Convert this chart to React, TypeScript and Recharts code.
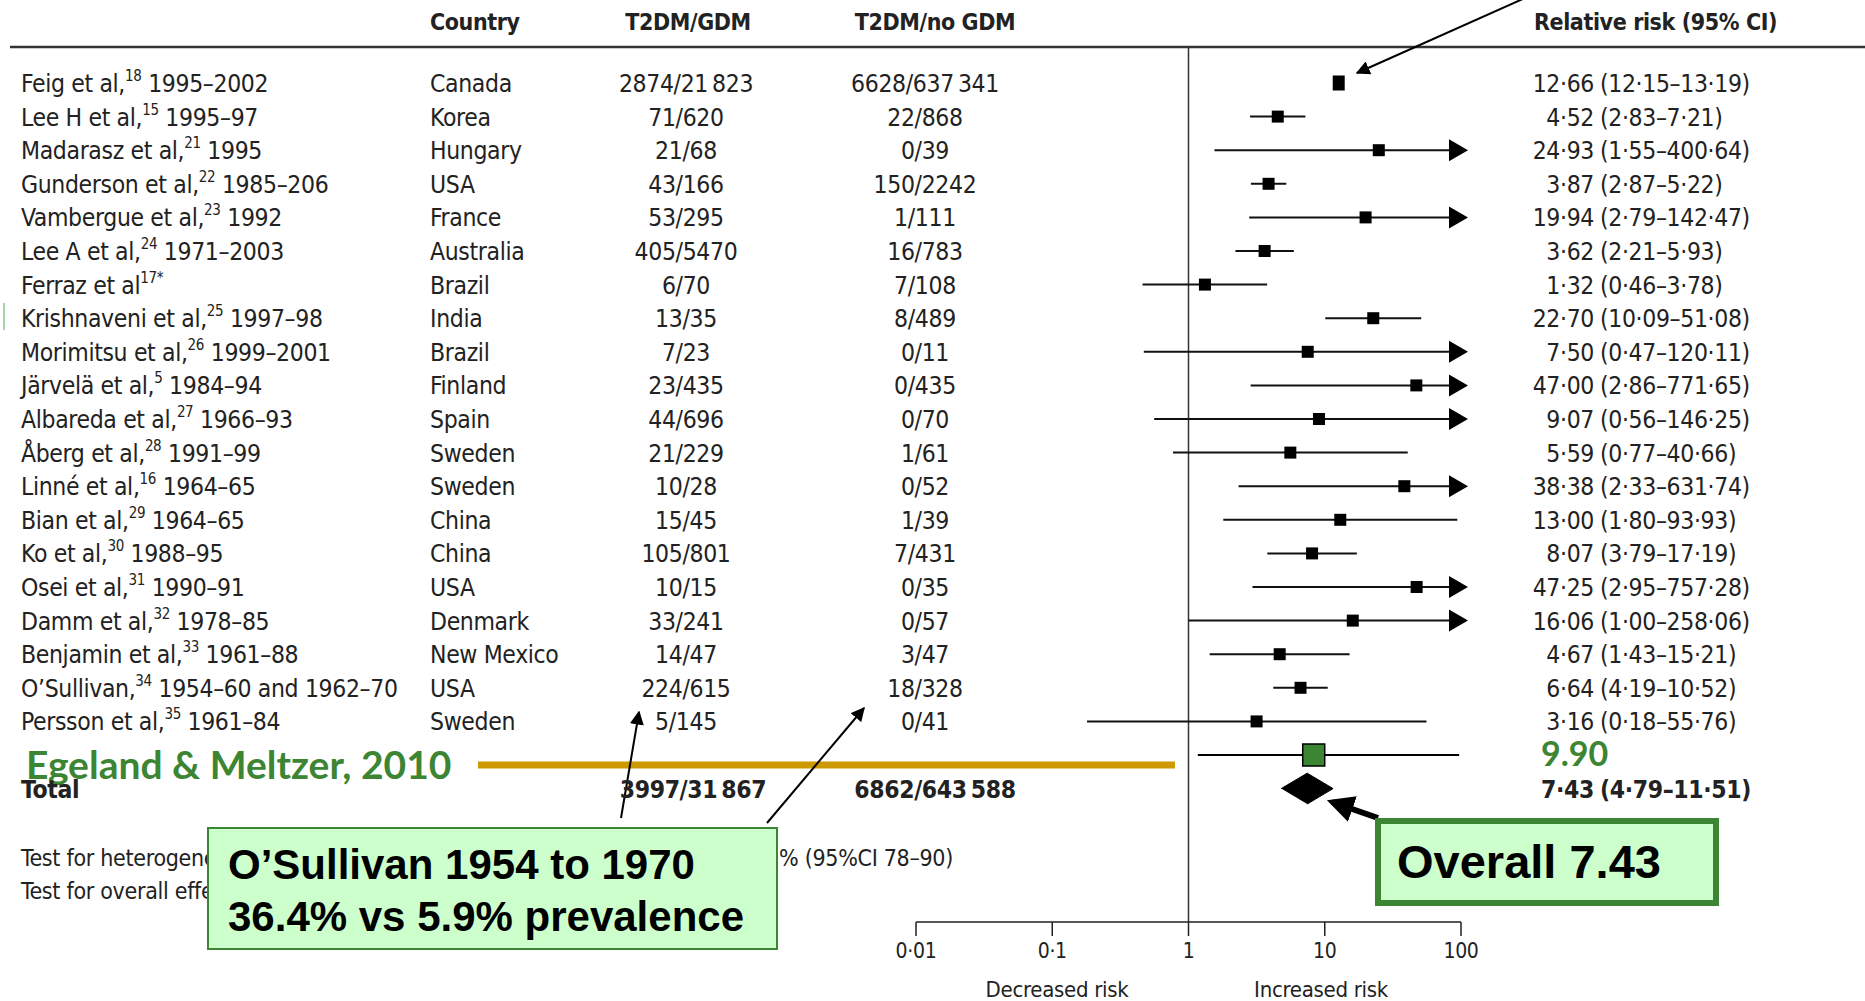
import React from "react";
import {
  ComposedChart,
  Scatter,
  XAxis,
  YAxis,
  ErrorBar,
  ReferenceLine,
  Customized,
} from "recharts";

// ---- data ----
const studies = [
  "Feig et al,", "Lee H et al,", "Madarasz et al,", "Gunderson et al,", "Vambergue et al,",
  "Lee A et al,", "Ferraz et al", "Krishnaveni et al,", "Morimitsu et al,", "Järvelä et al,",
  "Albareda et al,", "Åberg et al,", "Linné et al,", "Bian et al,", "Ko et al,",
  "Osei et al,", "Damm et al,", "Benjamin et al,", "O’Sullivan,", "Persson et al,",
];
const refs = ["18", "15", "21", "22", "23", "24", "17*", "25", "26", "5", "27", "28", "16", "29", "30", "31", "32", "33", "34", "35"];
const years = [
  "1995–2002", "1995–97", "1995", "1985–206", "1992", "1971–2003", "", "1997–98", "1999–2001", "1984–94",
  "1966–93", "1991–99", "1964–65", "1964–65", "1988–95", "1990–91", "1978–85", "1961–88", "1954–60  and 1962–70", "1961–84",
];
const countries = [
  "Canada", "Korea", "Hungary", "USA", "France", "Australia", "Brazil", "India", "Brazil", "Finland",
  "Spain", "Sweden", "Sweden", "China", "China", "USA", "Denmark", "New Mexico", "USA", "Sweden",
];
const gdmCounts = [
  "2874/21\u2009823", "71/620", "21/68", "43/166", "53/295", "405/5470", "6/70", "13/35", "7/23", "23/435",
  "44/696", "21/229", "10/28", "15/45", "105/801", "10/15", "33/241", "14/47", "224/615", "5/145",
];
const noGdmCounts = [
  "6628/637\u2009341", "22/868", "0/39", "150/2242", "1/111", "16/783", "7/108", "8/489", "0/11", "0/435",
  "0/70", "1/61", "0/52", "1/39", "7/431", "0/35", "0/57", "3/47", "18/328", "0/41",
];
const rr = [12.66, 4.52, 24.93, 3.87, 19.94, 3.62, 1.32, 22.7, 7.5, 47.0, 9.07, 5.59, 38.38, 13.0, 8.07, 47.25, 16.06, 4.67, 6.64, 3.16];
const ciLow = [12.15, 2.83, 1.55, 2.87, 2.79, 2.21, 0.46, 10.09, 0.47, 2.86, 0.56, 0.77, 2.33, 1.8, 3.79, 2.95, 1.0, 1.43, 4.19, 0.18];
const ciHigh = [13.19, 7.21, 400.64, 5.22, 142.47, 5.93, 3.78, 51.08, 120.11, 771.65, 146.25, 40.66, 631.74, 93.93, 17.19, 757.28, 258.06, 15.21, 10.52, 55.76];

const totalCounts = ["3997/31\u2009867", "6862/643\u2009588"];
const totalEstimate = [7.43, 4.79, 11.51]; // rr, low, high
const egelandEstimate = [8.3, 1.17, 97]; // as drawn
const egelandLabel = "9.90";
const xTicks = [0.01, 0.1, 1, 10, 100];
const axisMax = 100;

// ---- helpers ----
const dot = (v: number) => v.toFixed(2).replace(".", "·");
const tickText = (v: number) => String(v).replace(".", "·");

const BODY_FONT = "'Liberation Sans Narrow', 'DejaVu Sans Condensed', 'Roboto', sans-serif";
const GREEN = "#3c8533";
const GOLD = "#cc9900";

const studyRows = studies.map((s, i) => ({
  x: rr[i],
  y: i,
  err: [rr[i] - ciLow[i], Math.min(ciHigh[i], axisMax) - rr[i]],
}));
const tableRows = studies.map((s, i) => ({ x: 1, y: i, i }));
const arrowRows = studies
  .map((s, i) => ({ x: axisMax, y: i, hi: ciHigh[i] }))
  .filter((d) => d.hi > axisMax);
const egelandRow = [
  {
    x: egelandEstimate[0],
    y: studies.length,
    err: [egelandEstimate[0] - egelandEstimate[1], egelandEstimate[2] - egelandEstimate[0]],
  },
];
const totalY = studies.length + 1;
const diamond = [
  { x: totalEstimate[1], y: totalY },
  { x: totalEstimate[0], y: totalY - 0.46 },
  { x: totalEstimate[2], y: totalY },
  { x: totalEstimate[0], y: totalY + 0.46 },
];
const totalRow = [{ x: 1, y: totalY }];

const TableRow = (props: any) => {
  const { cy, payload } = props;
  const i = payload.i;
  const base = cy + 9;
  return (
    <g fontFamily={BODY_FONT} fontSize={24.5} letterSpacing={-0.35} fill="#222">
      <text x={21} y={base}>
        {studies[i]}
        <tspan fontSize={15} dy={-11}>{refs[i]}</tspan>
        <tspan dy={11}>{years[i] ? " " + years[i] : ""}</tspan>
      </text>
      <text x={430} y={base}>{countries[i]}</text>
      <text x={686} y={base} textAnchor="middle">{gdmCounts[i]}</text>
      <text x={925} y={base} textAnchor="middle">{noGdmCounts[i]}</text>
      <text x={1594} y={base} textAnchor="end">{dot(rr[i])}</text>
      <text x={1600} y={base}>{`(${dot(ciLow[i])}–${dot(ciHigh[i])})`}</text>
    </g>
  );
};

const TotalRow = (props: any) => {
  const base = props.cy + 9;
  return (
    <g fontFamily={BODY_FONT} fontSize={24.5} letterSpacing={-0.35} fontWeight="bold" fill="#222">
      <text x={21} y={base}>Total</text>
      <text x={693} y={base} textAnchor="middle">{totalCounts[0]}</text>
      <text x={935} y={base} textAnchor="middle">{totalCounts[1]}</text>
      <text x={1594} y={base} textAnchor="end">{dot(totalEstimate[0])}</text>
      <text x={1600} y={base}>{`(${dot(totalEstimate[1])}–${dot(totalEstimate[2])})`}</text>
    </g>
  );
};

const Square = (props: any) => {
  const { cx, cy, payload } = props;
  const h = payload.y === 0 ? 15 : 12;
  return <rect x={cx - 6} y={cy - h / 2} width={12} height={h} fill="#000" />;
};

const ArrowHead = (props: any) => {
  const { cx, cy } = props;
  return <polygon points={`${cx - 12},${cy - 11} ${cx + 7},${cy} ${cx - 12},${cy + 11}`} fill="#000" />;
};

const GreenSquare = (props: any) => {
  const { cx, cy } = props;
  return <rect x={cx - 11} y={cy - 11} width={22} height={22} fill={GREEN} stroke="#000" strokeWidth={1.5} />;
};

const AxisTick = (props: any) => {
  const { x, y, payload } = props;
  return (
    <text x={x} y={y} dy={20} textAnchor="middle" fontFamily={BODY_FONT} fontSize={21} letterSpacing={-0.3} fill="#222">
      {tickText(payload.value)}
    </text>
  );
};

const Overlay = () => (
  <g>
    <defs>
      <marker id="ah" viewBox="0 0 10 10" refX="9" refY="5" markerWidth="7" markerHeight="7" orient="auto">
        <path d="M0,0 L10,5 L0,10 z" fill="#000" />
      </marker>
      <marker id="ahBig" viewBox="0 0 10 10" refX="8" refY="5" markerWidth="4.5" markerHeight="4.5" orient="auto">
        <path d="M0,0 L10,5 L0,10 z" fill="#000" />
      </marker>
    </defs>
    {/* header */}
    <g fontFamily={BODY_FONT} fontSize={23} letterSpacing={-0.4} fontWeight="bold" fill="#222">
      <text x={430} y={30}>Country</text>
      <text x={688} y={30} textAnchor="middle">T2DM/GDM</text>
      <text x={935} y={30} textAnchor="middle">T2DM/no GDM</text>
      <text x={1534} y={30}>Relative risk (95% CI)</text>
    </g>
    <line x1={10} x2={1865} y1={47} y2={47} stroke="#333" strokeWidth={2.5} />
    <line x1={4} x2={4} y1={303} y2={330} stroke="#5a5" strokeWidth={1} />

    {/* tests */}
    <g fontFamily={BODY_FONT} fontSize={23} letterSpacing={-0.3} fill="#222">
      <text x={21} y={866}>Test for heterogeneity: p&lt;0·0001; I²=85</text>
      <text x={779} y={866}>% (95%CI 78–90)</text>
      <text x={21} y={899}>Test for overall effect: p&lt;0·0001</text>
      <text x={1057} y={997} textAnchor="middle" fontSize={22}>Decreased risk</text>
      <text x={1321} y={997} textAnchor="middle" fontSize={22}>Increased risk</text>
    </g>

    {/* Egeland annotation */}
    <line x1={478} x2={1175} y1={765} y2={765} stroke={GOLD} strokeWidth={7} />
    <text x={26} y={779} fontFamily="Lato, 'Open Sans', sans-serif" fontWeight="bold" fontSize={39} fill={GREEN}>
      Egeland &amp; Meltzer, 2010
    </text>
    <text x={1541} y={766} fontFamily="Lato, 'Open Sans', sans-serif" fontWeight="bold" fontSize={34} fill={GREEN}>
      {egelandLabel}
    </text>

    {/* arrows */}
    <line x1={1525} y1={-2} x2={1357} y2={73} stroke="#000" strokeWidth={2} markerEnd="url(#ah)" />
    <line x1={621} y1={818} x2={639} y2={712} stroke="#000" strokeWidth={2} markerEnd="url(#ah)" />
    <line x1={767} y1={823} x2={864} y2={708} stroke="#000" strokeWidth={2} markerEnd="url(#ah)" />
    <line x1={1378} y1={818} x2={1332} y2={802} stroke="#000" strokeWidth={6} markerEnd="url(#ahBig)" />

    {/* O'Sullivan box */}
    <rect x={208} y={828} width={569} height={121} fill="#ccffcc" stroke={GREEN} strokeWidth={2} />
    <g fontFamily="'Liberation Sans', Arial, sans-serif" fontWeight="bold" fontSize={42} fill="#000">
      <text x={228} y={879}>O’Sullivan 1954 to 1970</text>
      <text x={228} y={931}>36.4% vs 5.9% prevalence</text>
    </g>

    {/* Overall box */}
    <rect x={1378} y={821} width={338} height={82} fill="#ccffcc" stroke={GREEN} strokeWidth={6} />
    <text x={1397} y={878} fontFamily="'Liberation Sans', Arial, sans-serif" fontWeight="bold" fontSize={47} fill="#000">
      Overall 7.43
    </text>
  </g>
);

export default function App() {
  return (
    <div style={{ width: 1865, height: 1001, background: "#fff" }}>
      <style>{`body{margin:0;background:#fff}`}</style>
      <ComposedChart width={1865} height={1001} margin={{ top: 48, right: 404, left: 916, bottom: 0 }}>
        <XAxis
          dataKey="x"
          type="number"
          scale="log"
          domain={[0.01, 100]}
          ticks={xTicks}
          height={79}
          tickSize={14}
          tickMargin={2}
          tick={<AxisTick />}
          stroke="#222"
          axisLine={{ stroke: "#222", strokeWidth: 1.5 }}
          tickLine={{ stroke: "#222", strokeWidth: 1.5 }}
        />
        <YAxis dataKey="y" type="number" domain={[-1.0417, 24.97]} reversed hide width={0} />
        <ReferenceLine x={1} stroke="#333" strokeWidth={1.5} ifOverflow="visible" />
        <Scatter data={tableRows} isAnimationActive={false} shape={<TableRow />} />
        <Scatter data={totalRow} isAnimationActive={false} shape={<TotalRow />} />
        <Scatter data={studyRows} isAnimationActive={false} shape={<Square />}>
          <ErrorBar dataKey="err" direction="x" width={0} stroke="#111" strokeWidth={2} isAnimationActive={false} />
        </Scatter>
        <Scatter data={arrowRows} isAnimationActive={false} shape={<ArrowHead />} />
        <Scatter data={egelandRow} isAnimationActive={false} shape={<GreenSquare />}>
          <ErrorBar dataKey="err" direction="x" width={0} stroke="#000" strokeWidth={2} isAnimationActive={false} />
        </Scatter>
        <Scatter
          data={diamond}
          isAnimationActive={false}
          line={{ fill: "#000", stroke: "#000", strokeWidth: 1 }}
          lineType="joint"
          shape={() => <g />}
        />
        <Customized component={<Overlay />} />
      </ComposedChart>
    </div>
  );
}
